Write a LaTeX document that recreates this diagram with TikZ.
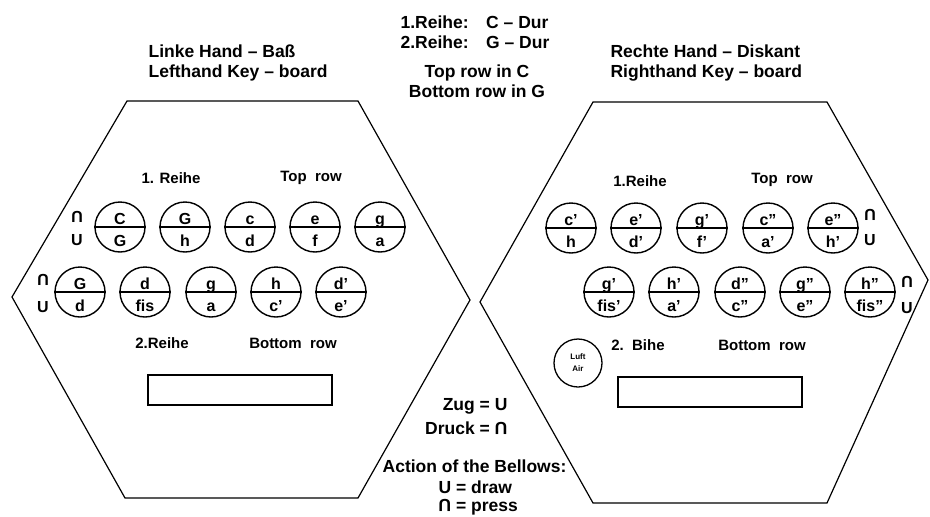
\documentclass[tikz,border=0pt]{standalone}
\usepackage{fontspec}
\setmainfont{Liberation Sans}
\usepackage{graphicx}
\usepackage{tikz}
\usetikzlibrary{calc}

\newcommand{\kap}{\rotatebox[origin=c]{180}{U}}

\begin{document}
\begin{tikzpicture}[x=1pt,y=-1pt,line width=1.2pt,
  taste/.style={circle,draw,line width=1.4pt,minimum size=50pt,inner sep=0pt},
  ton/.style={font=\fontsize{16}{16}\selectfont\bfseries,inner sep=0pt,anchor=base},
  balg/.style={font=\fontsize{16}{16}\selectfont\bfseries,inner sep=0pt},
  unten/.style={font=\fontsize{17.5}{17.5}\selectfont\bfseries,inner sep=0pt},
  reihe/.style={font=\fontsize{15}{16}\selectfont\bfseries,inner sep=0pt},
  titel/.style={font=\fontsize{17.5}{20}\selectfont\bfseries,align=left,inner sep=0pt},
  feld/.style={draw,line width=1.3pt,minimum width=184pt,minimum height=30pt,inner sep=0pt}]
\useasboundingbox (0,0) rectangle (930,517);
\draw (12,297) -- (127,101) -- (358,101) -- (470,300) -- (358,498) -- (125,498) -- cycle;
\draw (480,302) -- (593,102) -- (827,102) -- (928,280) -- (827,503) -- (593,503) -- cycle;

\node[titel,anchor=west] (links) at (148,63) {Linke Hand -- Baß\\Lefthand Key -- board};
\node[titel,anchor=west] (rechts) at (610,63) {Rechte Hand -- Diskant\\Righthand Key -- board};
\node[titel,anchor=west] (dur) at (400,32) {1.Reihe:\quad C -- Dur\\2.Reihe:\quad G -- Dur};
\node[titel,align=center] (tonart) at (477,81) {Top row in C\\Bottom row in G};

\foreach \x/\o/\u [count=\i] in {120/C/G,185/G/h,250/c/d,315/e/f,380/g/a} {
  \node[taste] (lo\i) at (\x,227) {};
  \draw[line width=1.4pt] (lo\i.west) -- (lo\i.east);
  \node[ton] (lo\i-o) at ([yshift=3pt]lo\i.center) {\o};
  \node[ton] (lo\i-u) at ([yshift=-19pt]lo\i.center) {\u};
}
\foreach \x/\o/\u [count=\i] in {80/G/d,145/d/fis,211/g/a,276/h/c',341/d'/e'} {
  \node[taste] (lu\i) at (\x,292) {};
  \draw[line width=1.4pt] (lu\i.west) -- (lu\i.east);
  \node[ton] (lu\i-o) at ([yshift=3pt]lu\i.center) {\o};
  \node[ton] (lu\i-u) at ([yshift=-19pt]lu\i.center) {\u};
}
\foreach \x/\o/\u [count=\i] in {571/c'/h,636/e'/d',702/g'/f',768/c''/a',833/e''/h'} {
  \node[taste] (ro\i) at (\x,228) {};
  \draw[line width=1.4pt] (ro\i.west) -- (ro\i.east);
  \node[ton] (ro\i-o) at ([yshift=3pt]ro\i.center) {\o};
  \node[ton] (ro\i-u) at ([yshift=-19pt]ro\i.center) {\u};
}
\foreach \x/\o/\u [count=\i] in {609/g'/fis',674/h'/a',740/d''/c'',805/g''/e'',870/h''/fis''} {
  \node[taste] (ru\i) at (\x,292) {};
  \draw[line width=1.4pt] (ru\i.west) -- (ru\i.east);
  \node[ton] (ru\i-o) at ([yshift=3pt]ru\i.center) {\o};
  \node[ton] (ru\i-u) at ([yshift=-19pt]ru\i.center) {\u};
}

\node[balg] (k1) at (77,217) {\kap};
\node[balg] (z1) at (77,240) {U};
\node[balg] (k2) at (43,280) {\kap};
\node[balg] (z2) at (43,307) {U};
\node[balg] (k3) at (870,215) {\kap};
\node[balg] (z3) at (870,240) {U};
\node[balg] (k4) at (907,282) {\kap};
\node[balg] (z4) at (907,308) {U};

\node[reihe] (r1l) at (171,178) {1. Reihe};
\node[reihe] (t1l) at (311,178) {Top\ \ row};
\node[reihe] (r2l) at (162,343) {2.Reihe};
\node[reihe] (b2l) at (293,343) {Bottom\ \ row};
\node[reihe] (r1r) at (640,181) {1.Reihe};
\node[reihe] (t1r) at (782,180) {Top\ \ row};
\node[reihe] (r2r) at (638,345) {2.\ \ Bihe};
\node[reihe] (b2r) at (762,345) {Bottom\ \ row};

\node[feld] (fl) at (240,390) {};
\node[feld] (fr) at (710,392) {};
\node[circle,draw,line width=1.3pt,minimum size=48pt,inner sep=0pt,
  font=\fontsize{8}{10}\selectfont\bfseries,align=center] (luft) at (578,363) {Luft\\[2pt]Air};

\node[unten,anchor=east] (zug) at (508,406) {Zug = U};
\node[unten,anchor=east] (druck) at (508,428) {Druck = \kap};
\node[unten,anchor=east] (aktion) at (567,466) {Action of the Bellows:};
\node[unten,anchor=west] (draw) at (438,487) {U = draw};
\node[unten,anchor=west] (press) at (438,507) {\kap{} = press};
\end{tikzpicture}
\end{document}
